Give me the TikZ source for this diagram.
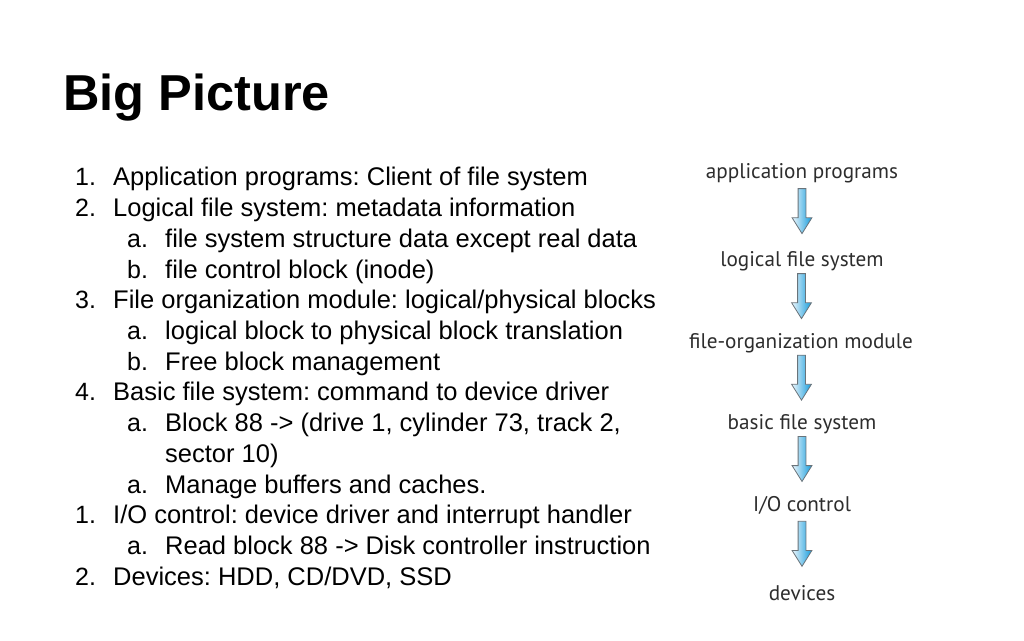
\documentclass[tikz,border=0pt]{standalone}
\usepackage{fontspec}
\usetikzlibrary{shapes.arrows}
\newfontfamily\slidefont{Liberation Sans}
\newfontfamily\figfont{PT Sans}
\definecolor{figtext}{RGB}{45,45,45}
\definecolor{arrowtop}{RGB}{236,246,252}
\definecolor{arrowbot}{RGB}{22,156,220}
\definecolor{arrowline}{RGB}{105,115,122}
\frenchspacing
\tikzset{
  slidetitle/.style={anchor=base west, inner sep=0pt, font=\slidefont\bfseries\fontsize{50.5}{60}\selectfont},
  numlabel/.style={anchor=base west, inner sep=0pt, font=\slidefont\fontsize{25}{30}\selectfont},
  itemtext/.style={anchor=base west, inner sep=0pt, font=\slidefont\fontsize{25.5}{30}\selectfont},
  layer/.style={inner sep=2pt, text=figtext, font=\figfont\fontsize{21.2}{25}\selectfont},
  flowarrow/.style={yshift=9pt, single arrow, draw=arrowline, line width=0.8pt, left color=arrowtop, right color=arrowbot,
    rotate=-90, minimum height=45pt, minimum width=19pt, inner sep=3.5pt,
    single arrow head extend=6pt, single arrow tip angle=64},
}
\begin{document}
\begin{tikzpicture}[x=1pt, y=1pt]
			%%%%% FRAME %%%%%
			\useasboundingbox[fill=white] (0, 0) rectangle (1024, 640);
			
			\node[slidetitle] (title) at (63, 529) {Big Picture};
			
			%%%%% LIST %%%%%
			\node[numlabel] (n1) at (75, 454) {1.};
			\node[itemtext] (t1) at (113, 454) {Application programs: Client of file system};
			\node[numlabel] (n2) at (75, 423.3) {2.};
			\node[itemtext] (t2) at (113, 423.3) {Logical file system: metadata information};
			\node[numlabel] (n2a) at (127, 392.6) {a.};
			\node[itemtext] (t2a) at (165, 392.6) {file system structure data except real data};
			\node[numlabel] (n2b) at (127, 361.9) {b.};
			\node[itemtext] (t2b) at (165, 361.9) {file control block (inode)};
			
			\node[numlabel] (n3) at (75, 331.2) {3.};
			\node[itemtext] (t3) at (113, 331.2) {File organization module: logical/physical blocks};
			\node[numlabel] (n3a) at (127, 300.5) {a.};
			\node[itemtext] (t3a) at (165, 300.5) {logical block to physical block translation};
			\node[numlabel] (n3b) at (127, 269.8) {b.};
			\node[itemtext] (t3b) at (165, 269.8) {Free block management};
			
			\node[numlabel] (n4) at (75, 239.1) {4.};
			\node[itemtext] (t4) at (113, 239.1) {Basic file system: command to device driver};
			\node[numlabel] (n4a) at (127, 208.4) {a.};
			\node[itemtext] (t4a) at (165, 208.4) {Block 88 -> (drive 1, cylinder 73, track 2,};
			\node[itemtext] (t4a2) at (165, 177.7) {sector 10)};
			\node[numlabel] (n4b) at (127, 147) {a.};
			\node[itemtext] (t4b) at (165, 147) {Manage buffers and caches.};
			
			\node[numlabel] (n5) at (75, 116.3) {1.};
			\node[itemtext] (t5) at (113, 116.3) {I/O control: device driver and interrupt handler};
			\node[numlabel] (n5a) at (127, 85.6) {a.};
			\node[itemtext] (t5a) at (165, 85.6) {Read block 88 -> Disk controller instruction};
			\node[numlabel] (n6) at (75, 54.9) {2.};
			\node[itemtext] (t6) at (113, 54.9) {Devices: HDD, CD/DVD, SSD};
			
			%%%%% LAYERS %%%%%
			\node[layer] (app) at (802, 467) {application programs};
			\node[layer] (lfs) at (802, 379) {logical file system};
			\node[layer] (fom) at (801, 297) {file-organization module};
			\node[layer] (bfs) at (802, 216) {basic file system};
			\node[layer] (ioc) at (802, 135) {I/O control};
			\node[layer] (dev) at (802, 47) {devices};
			
			\path (app) -- node[flowarrow] {} (lfs);
			\path (lfs) -- node[flowarrow] {} (fom);
			\path (fom) -- node[flowarrow] {} (bfs);
			\path (bfs) -- node[flowarrow] {} (ioc);
			\path (ioc) -- node[flowarrow] {} (dev);
		\end{tikzpicture}
\end{document}
